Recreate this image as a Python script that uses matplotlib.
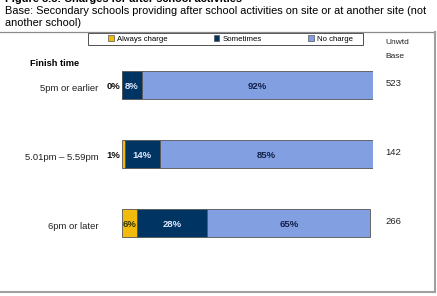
import matplotlib.pyplot as plt
import matplotlib.patches as mpatches
from matplotlib.lines import Line2D
import numpy as np

plt.rcParams['font.family'] = ['Liberation Sans', 'DejaVu Sans']

categories = ['5pm or earlier', '5.01pm \u2013 5.59pm', '6pm or later']
always = [0, 1, 6]
sometimes = [8, 14, 28]
nocharge = [92, 85, 65]
bases = [523, 142, 266]
series_names = ['Always charge', 'Sometimes', 'No charge']
colors = ['#F2BB0C', '#003463', '#829FE2']

W, H = 437, 296
fig = plt.figure(figsize=(W / 100, H / 100), dpi=100)

def fx(px):
    return px / W

def fy(py):
    return 1 - py / H

# outer frame: top, right and bottom only
fig.lines.append(Line2D([fx(0), fx(435)], [fy(32), fy(32)], transform=fig.transFigure,
                        color='#8a8a8a', lw=0.9))
fig.lines.append(Line2D([fx(435), fx(435)], [fy(32), fy(292)], transform=fig.transFigure,
                        color='#a0a0a0', lw=1.5))
fig.lines.append(Line2D([fx(0), fx(435)], [fy(292), fy(292)], transform=fig.transFigure,
                        color='#a0a0a0', lw=1.5))

# heading (cut off at the top, as in the source page)
fig.text(fx(5), fy(2.5), 'Figure 8.8: Charges for after school activities',
         fontsize=7.9, fontweight='bold', va='baseline', ha='left')
fig.text(fx(5), fy(13.5), 'Base: Secondary schools providing after school activities on site or at another site (not',
         fontsize=7.9, va='baseline', ha='left')
fig.text(fx(5), fy(26.5), 'another school)', fontsize=7.9, va='baseline', ha='left')

ax = fig.add_axes([fx(122), fy(257.5), fx(251), 207 / H])
y = np.arange(len(categories))
h = 0.40
left = np.zeros(len(categories))
for vals, col, name in zip([always, sometimes, nocharge], colors, series_names):
    ax.barh(y, vals, left=left, height=h, color=col, edgecolor='#555555',
            linewidth=0.6, label=name)
    left = left + np.array(vals)
ax.set_xlim(0, 100)
ax.set_ylim(2.5, -0.5)
ax.axis('off')

# segment labels
fs = 6.8
for i in range(len(categories)):
    a, s, n = always[i], sometimes[i], nocharge[i]
    yy = y[i] + 0.01
    if a < 3:
        ax.text(-0.8, yy, '%d%%' % a, ha='right', va='center_baseline',
                fontsize=fs, fontweight='bold', color='#111111')
    else:
        ax.text(a / 2, yy, '%d%%' % a, ha='center', va='center_baseline',
                fontsize=fs, fontweight='bold', color='#333300')
    ax.text(a + s / 2, yy, '%d%%' % s, ha='center', va='center_baseline',
            fontsize=fs, fontweight='bold', color='#dde6ff')
    ax.text(a + s + n / 2, yy, '%d%%' % n, ha='center', va='center_baseline',
            fontsize=fs, fontweight='bold', color='#10214a')
    ax.text(-9.5, y[i] + 0.03, categories[i], ha='right', va='center_baseline',
            fontsize=6.8, color='#222222')
    ax.text(105, y[i] - 0.03, str(bases[i]), ha='left', va='center_baseline',
            fontsize=6.8, color='#222222')

fig.text(fx(385), fy(42), 'Unwtd', fontsize=6.0, va='center', ha='left', color='#222222')
fig.text(fx(385), fy(57), 'Base', fontsize=6.0, va='center', ha='left', color='#222222')
fig.text(fx(30), fy(64), 'Finish time', fontsize=6.7, fontweight='bold', va='center', ha='left')

# legend box
fig.patches.append(mpatches.Rectangle((fx(88), fy(45)), fx(275), 12 / H,
                                      transform=fig.transFigure, fill=False,
                                      edgecolor='#333333', lw=0.6))
leg = fig.legend(loc='center', bbox_to_anchor=(fx(230.5), fy(39)),
                 ncol=3, fontsize=5.6, frameon=False,
                 handlelength=0.7, handleheight=0.7, handletextpad=0.4,
                 borderpad=0, borderaxespad=0, columnspacing=6.0)
for p in leg.get_patches():
    p.set_edgecolor('#555555')
    p.set_linewidth(0.5)

fig.savefig('out.png', dpi=100)
